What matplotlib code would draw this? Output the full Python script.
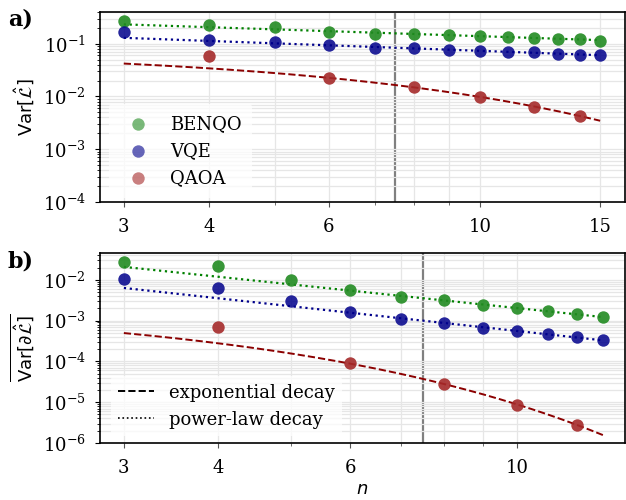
import numpy as np
import matplotlib
matplotlib.use("Agg")
import matplotlib.pyplot as plt
from matplotlib.ticker import NullFormatter, ScalarFormatter, FixedLocator
from matplotlib.lines import Line2D

plt.rcParams["font.family"] = "DejaVu Serif"
plt.rcParams["mathtext.fontset"] = "dejavusans"

# ---- panel a): variance of the loss ----
n_top = [3, 4, 5, 6, 7, 8, 9, 10, 11, 12, 13, 14, 15]
benqo_top = [0.275, 0.23, 0.207, 0.17, 0.156, 0.153, 0.144, 0.14, 0.134, 0.13, 0.124, 0.122, 0.115]
vqe_top = [0.166, 0.119, 0.11, 0.096, 0.083, 0.082, 0.075, 0.074, 0.0706, 0.069, 0.065, 0.062, 0.060]
n_qaoa_top = [4, 6, 8, 10, 12, 14]
qaoa_top = [0.058, 0.0228, 0.015, 0.0097, 0.0064, 0.0043]

# ---- panel b): mean variance of the gradient ----
n_bot = [3, 4, 5, 6, 7, 8, 9, 10, 11, 12, 13]
benqo_bot = [0.0277, 0.0214, 0.0097, 0.00567, 0.00382, 0.00316, 0.00243, 0.00201, 0.0017, 0.00146, 0.0012]
vqe_bot = [0.0104, 0.00635, 0.0030, 0.00166, 0.00108, 0.00089, 0.00067, 0.000555, 0.00046, 0.00039, 0.000327]
n_qaoa_bot = [4, 6, 8, 10, 12]
qaoa_bot = [0.00071, 9.2e-5, 2.8e-5, 8.7e-6, 2.8e-6]

n_cut = 7.5          # fits use sizes beyond this line
xticks_top = [3, 4, 6, 10, 15]
xticks_bot = [3, 4, 6, 10]

C_BENQO, C_VQE, C_QAOA = "forestgreen", "darkblue", "#a52a2a"
L_BENQO, L_VQE, L_QAOA = "green", "darkblue", "darkred"


def power_fit(n, y, grid):
    n, y = np.asarray(n, float), np.asarray(y, float)
    m = n > n_cut
    b, a = np.polyfit(np.log(n[m]), np.log(y[m]), 1)
    return np.exp(a) * grid ** b


def exp_fit(n, y, grid):
    n, y = np.asarray(n, float), np.asarray(y, float)
    m = n > n_cut
    b, a = np.polyfit(n[m], np.log(y[m]), 1)
    return np.exp(a + b * grid)


def style_axis(ax, xticks, xlim, ylim):
    ax.set_xscale("log")
    ax.set_yscale("log")
    ax.set_xlim(*xlim)
    ax.set_ylim(*ylim)
    ax.xaxis.set_major_locator(FixedLocator(xticks))
    ax.xaxis.set_major_formatter(ScalarFormatter())
    ax.xaxis.set_minor_formatter(NullFormatter())
    ax.grid(True, which="both", color="#e6e6e6", lw=0.9, zorder=0)
    ax.axvline(n_cut, color="gray", lw=1.6, zorder=1)
    ax.tick_params(labelsize=13, direction="out")
    ax.tick_params(axis="y", which="major", pad=7)
    ax.tick_params(axis="x", which="major", pad=8)
    ax.tick_params(axis="x", which="both", colors="#555555", labelcolor="black")
    for s in ax.spines.values():
        s.set_linewidth(1.2)


fig, (ax1, ax2) = plt.subplots(2, 1, figsize=(6.26, 5.0), dpi=100)
fig.subplots_adjust(left=0.16, right=0.998, top=0.976, bottom=0.114, hspace=0.27)

ms = 80
# panel a
g = np.linspace(3, 15, 200)
ax1.plot(g, power_fit(n_top, benqo_top, g), ":", color=L_BENQO, lw=1.6, zorder=2)
ax1.plot(g, power_fit(n_top, vqe_top, g), ":", color=L_VQE, lw=1.6, zorder=2)
ax1.plot(g, exp_fit(n_qaoa_top, qaoa_top, g), "--", color=L_QAOA, lw=1.4, zorder=2)
ax1.scatter(n_top, benqo_top, s=ms, color=C_BENQO, alpha=0.9, lw=0, zorder=3, label="BENQO")
ax1.scatter(n_top, vqe_top, s=ms, color=C_VQE, alpha=0.85, lw=0, zorder=3, label="VQE")
ax1.scatter(n_qaoa_top, qaoa_top, s=ms, color=C_QAOA, alpha=0.9, lw=0, zorder=3, label="QAOA")
style_axis(ax1, xticks_top, (2.77, 16.3), (1e-4, 0.4))
ax1.set_ylabel(r"$\mathrm{Var}[\hat{\mathcal{L}}]$", fontsize=13)
leg1 = ax1.legend(loc="lower left", fontsize=13, frameon=True, framealpha=0.75,
                  edgecolor="none", handletextpad=0.75, borderpad=0.6,
                  bbox_to_anchor=(0.0, -0.025))
for h in leg1.legend_handles:
    h.set_alpha(0.6)
ax1.text(-0.176, 0.958, "a)", transform=ax1.transAxes, fontsize=16, fontweight="bold",
         va="center", ha="left")

# panel b
g = np.linspace(3, 13, 200)
ax2.plot(g, power_fit(n_bot, benqo_bot, g), ":", color=L_BENQO, lw=1.6, zorder=2)
ax2.plot(g, power_fit(n_bot, vqe_bot, g), ":", color=L_VQE, lw=1.6, zorder=2)
ax2.plot(g, exp_fit(n_qaoa_bot, qaoa_bot, g), "--", color=L_QAOA, lw=1.4, zorder=2)
ax2.scatter(n_bot, benqo_bot, s=ms, color=C_BENQO, alpha=0.9, lw=0, zorder=3)
ax2.scatter(n_bot, vqe_bot, s=ms, color=C_VQE, alpha=0.85, lw=0, zorder=3)
ax2.scatter(n_qaoa_bot, qaoa_bot, s=ms, color=C_QAOA, alpha=0.9, lw=0, zorder=3)
style_axis(ax2, xticks_bot, (2.79, 13.9), (1e-6, 0.045))
ax2.set_ylabel(r"$\overline{\mathrm{Var}[\partial\hat{\mathcal{L}}]}$", fontsize=13)
ax2.set_xlabel(r"$n$", fontsize=13, labelpad=2)
handles = [Line2D([], [], color="black", ls="--", lw=1.4),
           Line2D([], [], color="black", ls=":", lw=1.2)]
ax2.legend(handles, ["exponential decay", "power-law decay"], loc="lower left",
           fontsize=13, frameon=True, framealpha=0.75, edgecolor="none",
           handlelength=2.0, borderpad=0.4, bbox_to_anchor=(0.003, -0.01))
ax2.text(-0.176, 0.957, "b)", transform=ax2.transAxes, fontsize=16, fontweight="bold",
         va="center", ha="left")

fig.savefig("out.png", dpi=100)
